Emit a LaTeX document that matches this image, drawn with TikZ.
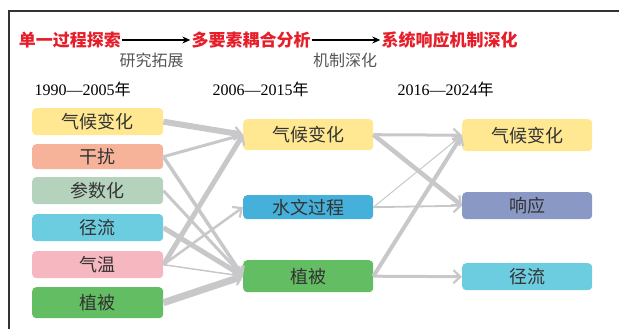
\documentclass[tikz,border=0pt]{standalone}
\usepackage{fontspec}
\setmainfont{Liberation Serif}
\newfontfamily\cjk{Noto Sans CJK SC}
\usetikzlibrary{arrows.meta}
\definecolor{redt}{HTML}{E61E2A}
\definecolor{subt}{HTML}{555555}
\definecolor{lab}{HTML}{333333}
\definecolor{arr}{HTML}{C8C8CA}
\definecolor{cY}{HTML}{FFE891}
\definecolor{cS}{HTML}{F7B39A}
\definecolor{cG}{HTML}{B4D2BC}
\definecolor{cC}{HTML}{6DCDE0}
\definecolor{cP}{HTML}{F7B7C0}
\definecolor{cV}{HTML}{63BE63}
\definecolor{cB}{HTML}{45B0DA}
\definecolor{cR}{HTML}{8A98C6}
\tikzset{
  box/.style={rounded corners=4pt, minimum width=131pt, inner sep=0pt, text=lab, font=\cjk\fontsize{18}{18}\selectfont, anchor=north west},
  title/.style={text=redt, font=\cjk\bfseries\fontsize{17}{17}\selectfont, inner sep=0pt},
  sub/.style={text=subt, font=\cjk\fontsize{16}{16}\selectfont, inner sep=0pt},
  year/.style={text=black, font=\fontsize{16}{16}\selectfont, inner sep=0pt},
  flow/.style={draw=arr, line width=#1, -{Straight Barb[length=7pt,width=13pt,line width=2.2pt]}},
  flow/.default=3pt
}
\begin{document}
\begin{tikzpicture}[x=1pt,y=-1pt]
\useasboundingbox (0,0) rectangle (619,329);
% frame
\draw[line width=1.4pt, color=black!80] (9,329) -- (9,11) -- (619,11);
% titles
\node[title] (t1) at (70,40) {单一过程探索};
\node[title] (t2) at (251,40) {多要素耦合分析};
\node[title] (t3) at (449.5,40) {系统响应机制深化};
\draw[line width=1.1pt, -{Stealth[length=8pt,width=7pt]}] ([xshift=1pt]t1.east) -- ([xshift=-1pt]t2.west);
\draw[line width=1.1pt, -{Stealth[length=8pt,width=7pt]}] ([xshift=1pt]t2.east) -- ([xshift=-1pt]t3.west);
\node[sub] (s1) at (151.5,60) {研究拓展};
\node[sub] (s2) at (345,60) {机制深化};
% years
\node[year] (y1) at (82.5,89) {1990—2005{\cjk 年}};
\node[year] (y2) at (260.5,89) {2006—2015{\cjk 年}};
\node[year] (y3) at (445.5,89) {2016—2024{\cjk 年}};
% left column
\node[box, fill=cY, minimum height=27pt] (l1) at (32,108) {气候变化};
\node[box, fill=cS, minimum height=25pt] (l2) at (32,144) {干扰};
\node[box, fill=cG, minimum height=27pt] (l3) at (32,177) {参数化};
\node[box, fill=cC, minimum height=27pt] (l4) at (32,214) {径流};
\node[box, fill=cP, minimum height=27pt] (l5) at (32,251) {气温};
\node[box, fill=cV, minimum height=31pt] (l6) at (32,287) {植被};
% middle column
\node[box, fill=cY, minimum height=31pt, minimum width=130pt] (m1) at (243,119) {气候变化};
\node[box, fill=cB, minimum height=24pt, minimum width=130pt] (m2) at (243,195) {水文过程};
\node[box, fill=cV, minimum height=32pt, minimum width=130pt] (m3) at (243,260) {植被};
% right column
\node[box, fill=cY, minimum height=32pt, minimum width=130pt] (r1) at (462,119) {气候变化};
\node[box, fill=cR, minimum height=27pt, minimum width=130pt] (r2) at (462,192) {响应};
\node[box, fill=cC, minimum height=27pt, minimum width=130pt] (r3) at (462,263) {径流};
% left -> middle
\draw[flow=6pt] (l1.east) -- (m1.west);
\draw[flow=3pt] (l2.east) -- (m1.west);
\draw[flow=3.5pt] (l2.east) -- (m3.west);
\draw[flow=3pt] (l3.east) -- (m3.west);
\draw[flow=5pt] (l4.east) -- (m3.west);
\draw[flow=5pt] (l5.east) -- (m1.west);
\draw[flow=2.5pt] (l5.east) -- (m2.west);
\draw[flow=1.5pt] (l5.east) -- (m3.west);
\draw[flow=7pt] (l6.east) -- (m3.west);
% middle -> right
\draw[flow=3pt] (m1.east) -- (r1.west);
\draw[flow=4.5pt] (m1.east) -- (r2.west);
\draw[flow=1pt] (m2.east) -- (r1.west);
\draw[flow=1.8pt] (m2.east) -- (r2.west);
\draw[flow=4pt] (m3.east) -- (r1.west);
\draw[flow=3pt] (m3.east) -- (r3.west);
\end{tikzpicture}
\end{document}
